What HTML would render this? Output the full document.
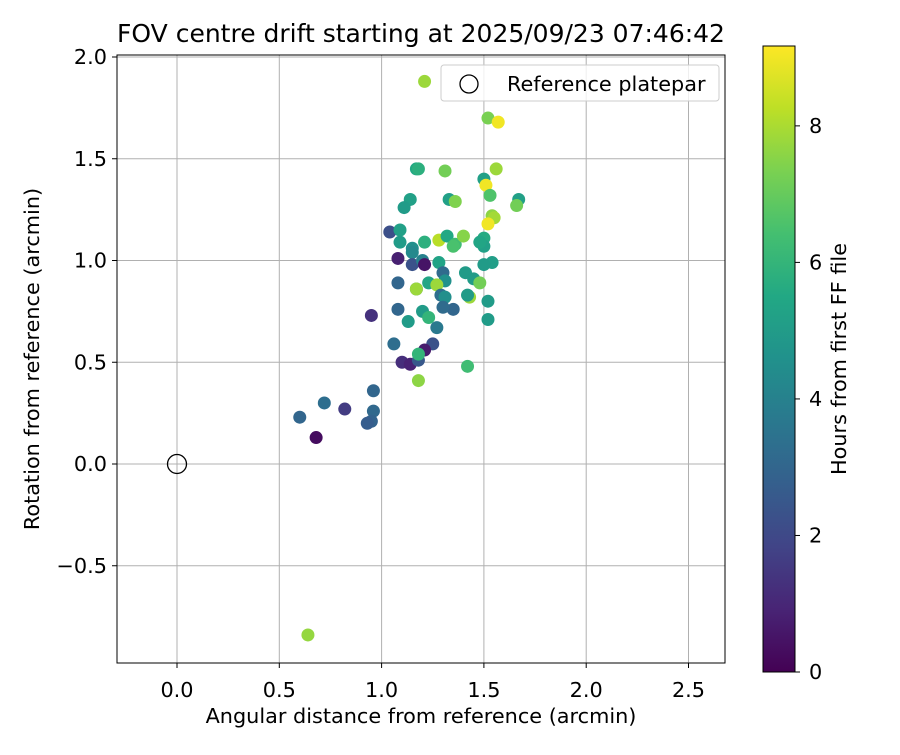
<!DOCTYPE html>
<html><head><meta charset="utf-8">
<style>
body{margin:0;background:#fff;}
svg text{font-family:"DejaVu Sans","Liberation Sans",sans-serif;fill:#000;}
</style></head>
<body>
<svg id="chart" width="900" height="750" xmlns="http://www.w3.org/2000/svg">
<defs>
<linearGradient id="vir" x1="0" y1="1" x2="0" y2="0">
<stop offset="0" stop-color="#440154"/><stop offset="0.1" stop-color="#482475"/><stop offset="0.2" stop-color="#414487"/><stop offset="0.3" stop-color="#355f8d"/><stop offset="0.4" stop-color="#2a788e"/><stop offset="0.5" stop-color="#21918c"/><stop offset="0.6" stop-color="#22a884"/><stop offset="0.7" stop-color="#44bf70"/><stop offset="0.8" stop-color="#7ad151"/><stop offset="0.9" stop-color="#bddf26"/><stop offset="1" stop-color="#fde725"/>
</linearGradient>
</defs>
<text x="421" y="42" font-size="25" text-anchor="middle">FOV centre drift starting at 2025/09/23 07:46:42</text>
<g id="grid"></g>
<g id="points"></g>
<rect x="117" y="55" width="608" height="608" fill="none" stroke="#000" stroke-width="1"/>
<g id="ticks"></g>
<text x="421" y="723" font-size="20.8" text-anchor="middle">Angular distance from reference (arcmin)</text>
<text x="39" y="359" font-size="20.8" text-anchor="middle" transform="rotate(-90 39 359)">Rotation from reference (arcmin)</text>
<g>
<rect x="441" y="65" width="278" height="36" rx="3" fill="#fff" fill-opacity="0.8" stroke="#ccc"/>
<circle cx="469" cy="84" r="9" fill="none" stroke="#000" stroke-width="1.3"/>
<text x="507" y="91" font-size="20.8">Reference platepar</text>
</g>
<rect x="763" y="46" width="32" height="626" fill="url(#vir)" stroke="#000" stroke-width="1"/>
<g id="cbticks"></g>
<text x="846" y="359" font-size="20.8" text-anchor="middle" transform="rotate(-90 846 359)">Hours from first FF file</text>
</svg>
<script>
const xs=[1.21,1.52,1.57,1.17,1.18,1.31,1.14,1.11,1.33,1.36,1.67,1.66,1.50,1.51,1.53,1.56,1.54,1.55,1.52,1.04,1.09,1.09,1.15,1.21,1.28,1.32,1.36,1.40,1.50,1.50,1.08,1.15,1.15,1.20,1.21,1.28,1.30,1.31,1.08,1.17,1.17,1.23,1.27,1.29,1.31,1.35,1.30,1.41,1.45,1.48,1.43,1.42,1.52,1.52,1.08,1.13,1.20,1.23,1.27,1.06,1.25,1.21,1.10,1.14,1.18,1.18,1.42,1.18,0.95,0.96,1.48,1.35,0.96,0.95,0.93,0.82,0.72,0.60,0.68,0.64,1.54,1.50];
const ys=[1.88,1.70,1.68,1.45,1.45,1.44,1.30,1.26,1.30,1.29,1.30,1.27,1.40,1.37,1.32,1.45,1.22,1.21,1.18,1.14,1.15,1.09,1.06,1.09,1.10,1.12,1.08,1.12,1.11,1.07,1.01,1.04,0.98,1.00,0.98,0.99,0.94,0.90,0.89,0.86,0.86,0.89,0.88,0.83,0.82,0.76,0.77,0.94,0.91,0.89,0.82,0.83,0.80,0.71,0.76,0.70,0.75,0.72,0.67,0.59,0.59,0.56,0.50,0.49,0.51,0.54,0.48,0.41,0.73,0.36,1.09,1.07,0.26,0.21,0.20,0.27,0.30,0.23,0.13,-0.84,0.99,0.98];
const hours=[7.8,7.3,9.0,5.5,5.8,7.2,5.2,5.0,5.2,7.4,5.2,7.2,5.2,9.0,6.6,7.8,7.6,7.9,9.0,2.2,5.2,5.0,4.5,5.8,8.2,5.5,6.3,7.5,5.6,5.2,0.8,4.3,2.3,4.0,0.5,5.3,3.2,4.6,3.0,4.0,7.8,5.4,7.8,3.3,4.5,3.0,3.2,5.0,5.0,7.2,7.8,5.0,5.0,5.0,3.0,5.0,5.0,6.0,3.7,3.3,2.3,0.7,1.2,0.9,2.5,6.0,6.3,7.6,1.3,3.0,5.4,6.5,3.1,2.9,2.7,1.6,3.3,3.0,0.3,7.7,5.1,5.0];
const xTicks=[0.0,0.5,1.0,1.5,2.0,2.5];
const yTicks=[-0.5,0.0,0.5,1.0,1.5,2.0];
const xTickLabels=["0.0","0.5","1.0","1.5","2.0","2.5"];
const yTickLabels=["\u22120.5","0.0","0.5","1.0","1.5","2.0"];
const cbTicks=[0,2,4,6,8];
const cbMax=9.17;
const NS="http://www.w3.org/2000/svg";
const X=v=>177+v*204.6, Y=v=>464-v*203.5, CB=v=>672-v*(626/cbMax);
const vir=["#440154","#482475","#414487","#355f8d","#2a788e","#21918c","#22a884","#44bf70","#7ad151","#bddf26","#fde725"];
function hex(h){return [1,3,5].map(i=>parseInt(h.substr(i,2),16));}
function color(t){t=Math.max(0,Math.min(1,t))*10;const i=Math.min(9,Math.floor(t)),f=t-i;const a=hex(vir[i]),b=hex(vir[i+1]);return "rgb("+a.map((c,k)=>Math.round(c+(b[k]-c)*f)).join(",")+")";}
function mk(tag,attrs,parent){const e=document.createElementNS(NS,tag);for(const k in attrs)e.setAttribute(k,attrs[k]);parent.appendChild(e);return e;}
const grid=document.getElementById("grid"),ticks=document.getElementById("ticks"),pts=document.getElementById("points"),cbt=document.getElementById("cbticks");
xTicks.forEach((v,i)=>{
 const g=mk("line",{x1:X(v),x2:X(v),y1:55,y2:663,stroke:"#b0b0b0","stroke-width":1},grid);
 
 
 const t=mk("line",{x1:X(v),x2:X(v),y1:663,y2:668,stroke:"#000"},ticks);
 
 
 const l=mk("text",{x:X(v),y:697,"font-size":20.8,"text-anchor":"middle"},ticks);l.textContent=xTickLabels[i];
 
 
});
yTicks.forEach((v,i)=>{
 const g=mk("line",{x1:117,x2:725,y1:Y(v),y2:Y(v),stroke:"#b0b0b0","stroke-width":1},grid);
 
 
 const t=mk("line",{x1:112,x2:117,y1:Y(v),y2:Y(v),stroke:"#000"},ticks);
 
 
 const l=mk("text",{x:107,y:Y(v)+7,"font-size":20.8,"text-anchor":"end"},ticks);l.textContent=yTickLabels[i];
 
 
});
const ref=mk("circle",{cx:X(0),cy:Y(0),r:9.5,fill:"none",stroke:"#000","stroke-width":1.3},pts);


xs.forEach((v,i)=>{
 const c=mk("circle",{cx:X(v),cy:Y(ys[i]),r:6.5,fill:color(hours[i]/cbMax)},pts);
 
 
});
cbTicks.forEach(v=>{
 const t=mk("line",{x1:795,x2:800,y1:CB(v),y2:CB(v),stroke:"#000"},cbt);
 
 
 const l=mk("text",{x:809,y:CB(v)+7,"font-size":20.8},cbt);l.textContent=String(v);
 
 
});
</script>
</body></html>
